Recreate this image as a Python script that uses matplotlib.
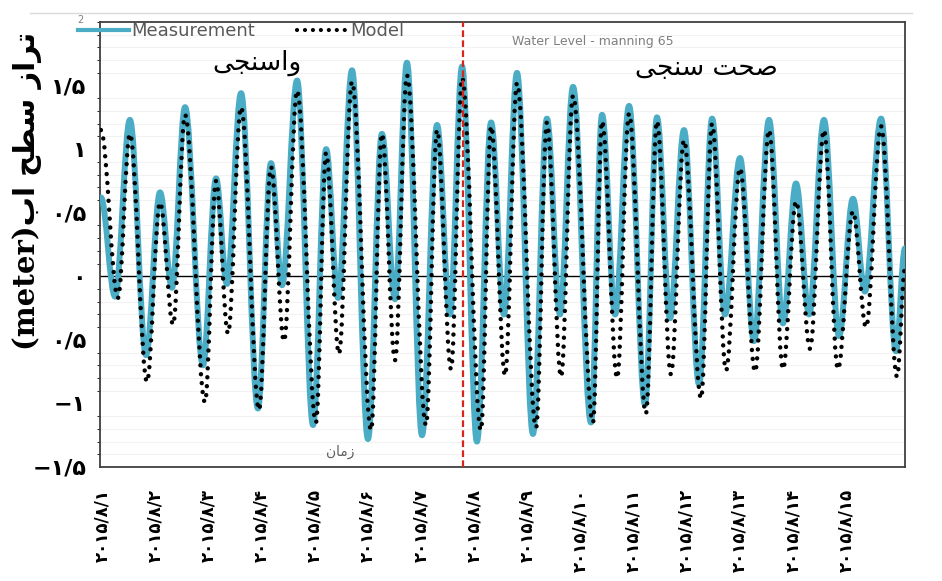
import numpy as np
import matplotlib
matplotlib.use("Agg")
import matplotlib.pyplot as plt
from matplotlib.path import Path
from matplotlib.patches import PathPatch
from matplotlib.lines import Line2D

# hours from 2015/8/1 00:00, high/low waters
meas_t = [-0.5, 5.9, 12.6, 19.9, 26.2, 31.6, 37.5, 45.6, 51.5, 56.4, 62.8, 70.4,
          76.3, 81.3, 88.1, 95.3, 101.2, 106.6, 112.9, 120.1, 126.4, 132.3, 137.7,
          144.5, 151.3, 157.1, 162.6, 169.3, 175.7, 181.5, 187.4, 194.6, 200.9,
          206.8, 212.7, 220.8, 225.8, 231.7, 238.0, 245.2, 250.6, 256.5, 262.8,
          269.6, 275.5, 281.3, 288.1, 294.4, 301.2, 307.5, 313.4, 319.3, 326.0,
          332.8, 339.1, 344.5, 351.8, 358.5, 362.6]
meas_v = [0.62, -0.16, 1.23, -0.62, 0.66, -0.09, 1.33, -0.70, 0.77, -0.06, 1.44, -1.04,
          0.89, -0.07, 1.54, -1.17, 1.00, -0.17, 1.62, -1.28, 1.12, -0.18, 1.68,
          -1.25, 1.19, -0.30, 1.65, -1.30, 1.21, -0.30, 1.60, -1.24, 1.24,
          -0.30, 1.49, -1.15, 1.27, -0.30, 1.34, -1.01, 1.25, -0.33, 1.15,
          -0.85, 1.24, -0.30, 0.93, -0.51, 1.23, -0.37, 0.73, -0.30, 1.23,
          -0.47, 0.61, -0.12, 1.24, -0.59, 0.22]

model_t = [-0.5, 7.2, 12.6, 20.3, 26.2, 32.1, 37.5, 46.5, 51.5, 56.9, 62.8, 70.9,
           76.3, 82.2, 88.1, 96.6, 101.2, 107.0, 112.9, 121.5, 126.4, 132.3, 137.7,
           146.3, 151.3, 157.6, 162.6, 171.1, 175.7, 182.0, 187.4, 196.0, 200.9,
           207.3, 212.7, 221.7, 225.8, 232.6, 238.0, 245.6, 250.6, 256.9, 262.8,
           270.5, 275.5, 281.8, 288.1, 294.9, 301.2, 307.5, 313.4, 319.7, 326.0,
           332.3, 339.1, 345.0, 351.8, 359.0, 362.6]
model_v = [1.15, -0.17, 1.12, -0.83, 0.58, -0.38, 1.27, -0.99, 0.75, -0.45, 1.33, -1.05,
           0.86, -0.51, 1.46, -1.15, 0.97, -0.61, 1.53, -1.21, 1.12, -0.66, 1.58,
           -1.17, 1.15, -0.73, 1.56, -1.21, 1.18, -0.78, 1.52, -1.19, 1.21,
           -0.79, 1.42, -1.15, 1.22, -0.80, 1.28, -1.08, 1.22, -0.77, 1.07,
           -0.96, 1.20, -0.74, 0.85, -0.75, 1.15, -0.73, 0.59, -0.57, 1.15,
           -0.73, 0.51, -0.40, 1.18, -0.79, 0.06]

days = list(range(1, 16))
split_t = 163.0  # calibration / validation boundary

fa = str.maketrans('0123456789', '۰۱۲۳۴۵۶۷۸۹')
ytick_vals = [-1.5, -1.0, -0.5, 0.0, 0.5, 1.0, 1.5]
ytick_txt = ['−۱/۵', '−۱', '۰/۵', '۰', '۰/۵', '۱', '۱/۵']

# pre-shaped persian strings (visual order)
txt_calib = '\uFEF0\uFEA0\uFEE8\uFEB3\uFE8D\uFEED'
txt_valid = '\uFEF0\uFEA0\uFEE8\uFEB3 \uFE96\uFEA4\uFEBB'
txt_time = '\uFEE5\uFE8E\uFEE3\uFEAF'
txt_ylab = '(meter)\uFE8F\uFE8D \uFEA2\uFEC4\uFEB3 \uFEAF\uFE8D\uFEAE\uFE97'


def tide_path(t, v, c=0.3634):
    verts = [(t[0], v[0])]
    codes = [Path.MOVETO]
    for i in range(len(t) - 1):
        dt = t[i + 1] - t[i]
        verts += [(t[i] + c * dt, v[i]), (t[i + 1] - c * dt, v[i + 1]), (t[i + 1], v[i + 1])]
        codes += [Path.CURVE4] * 3
    return Path(verts, codes)


W, H = 942, 581
fig = plt.figure(figsize=(W / 100, H / 100), dpi=100)
ax = fig.add_axes([100 / W, 1 - 467 / H, 805 / W, 445 / H])

blue = '#4bacc6'
meas = PathPatch(tide_path(meas_t, meas_v), fill=False, edgecolor=blue, lw=4.3,
                 capstyle='round', joinstyle='round', zorder=3)
ax.add_patch(meas)
model = PathPatch(tide_path(model_t, model_v), fill=False, edgecolor='black', lw=3.2,
                  linestyle=(0, (0.01, 2.0)), capstyle='round', zorder=4)
ax.add_patch(model)

ax.axhline(0, color='black', lw=1, zorder=2)
ax.axvline(split_t, color='#d9261c', lw=1.6, ls=(0, (3, 1.5)), zorder=5)

ax.set_xlim(-0.9, 362.6)
ax.set_ylim(-1.5, 2.0)

ax.set_yticks(np.arange(-1.5, 2.01, 0.1), minor=True)
ax.grid(True, which='minor', axis='y', color='#f2f2f2', lw=0.8)
ax.set_axisbelow(True)

ax.set_yticks(ytick_vals)
ax.set_yticklabels(ytick_txt, fontsize=16, fontweight='bold')
ax.set_xticks([(d - 1) * 24 for d in days])
ax.set_xticklabels([f'2015/8/{d}'.translate(fa) for d in days], rotation=90,
                   fontsize=12, fontweight='bold')
ax.tick_params(axis='both', length=0)
ax.tick_params(axis='y', pad=10)
ax.tick_params(axis='x', pad=16)
for s in ax.spines.values():
    s.set_color('#404040')
    s.set_linewidth(1.3)

# legend
h1 = Line2D([], [], color=blue, lw=3)
h2 = Line2D([], [], color='black', lw=3, ls=(0, (0.01, 1.9)), dash_capstyle='round')
leg = fig.legend([h1, h2], ['Measurement', 'Model'], loc='center left',
                 bbox_to_anchor=(62 / W, 1 - 31 / H), ncol=2, frameon=False,
                 fontsize=13, handlelength=2.8, handletextpad=0.15,
                 columnspacing=2.3, labelcolor='#595959')

fig.text(80 / W, 1 - 20 / H, '2', fontsize=7, color='#808080', ha='center', va='center')
fig.text(512 / W, 1 - 42 / H, 'Water Level - manning 65', fontsize=9, color='#7f7f7f',
         ha='left', va='center')
fig.text(257 / W, 1 - 63 / H, txt_calib, fontsize=19, ha='center', va='center')
fig.text(706 / W, 1 - 68 / H, txt_valid, fontsize=19, ha='center', va='center')
fig.text(340 / W, 1 - 452 / H, txt_time, fontsize=10, color='#606060', ha='center', va='center')
fig.text(27 / W, 1 - 350 / H, txt_ylab, fontsize=21, fontweight='bold', rotation=90,
         ha='center', va='bottom', family=['DejaVu Serif', 'DejaVu Sans'])

fig.add_artist(Line2D([30 / W, 912 / W], [1 - 13 / H, 1 - 13 / H], color='#d9d9d9', lw=1))

fig.savefig('out.png', dpi=100)
